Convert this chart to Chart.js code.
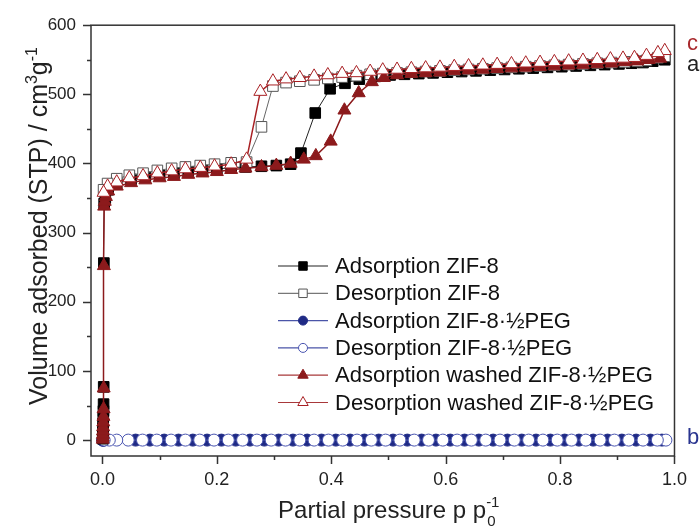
<!DOCTYPE html>
<html>
<head>
<meta charset="utf-8">
<script src="https://cdn.jsdelivr.net/npm/chart.js@4.4.0/dist/chart.umd.min.js"></script>
<style>
  html, body { margin: 0; padding: 0; background: #fff; }
</style>
</head>
<body>
<canvas id="isotherm" width="700" height="531"></canvas>
<script>
// axis ticks
const xTicks = [0, 0.1, 0.2, 0.3, 0.4, 0.5, 0.6, 0.7, 0.8, 0.9, 1.0];
const xLabeled = [0, 0.2, 0.4, 0.6, 0.8, 1.0];
const yTicks = [0, 50, 100, 150, 200, 250, 300, 350, 400, 450, 500, 550, 600];
const yLabeled = [0, 100, 200, 300, 400, 500, 600];

// Adsorption ZIF-8 (a)
const zifAdsX = [0.0005, 0.0006, 0.0008, 0.001, 0.0012, 0.0015, 0.0018, 0.002, 0.0022, 0.0025, 0.003,
  0.005, 0.01, 0.025, 0.05, 0.075, 0.1, 0.125, 0.15, 0.175, 0.2, 0.225, 0.25,
  0.278, 0.304, 0.329, 0.347, 0.372, 0.398, 0.424, 0.449, 0.477,
  0.503, 0.528, 0.553, 0.578, 0.603, 0.628, 0.653, 0.678, 0.703, 0.728, 0.753, 0.778, 0.803, 0.828, 0.853, 0.878, 0.903,
  0.925, 0.945, 0.962, 0.983];
const zifAdsY = [2, 6, 11, 17, 24, 33, 42, 52, 77, 256, 342,
  350, 362, 372, 377, 380, 383, 386, 388, 390, 392, 394, 395,
  396, 397, 399, 415, 473, 508, 516, 522, 526,
  528, 529, 530, 531, 532, 533, 534, 535, 536, 537, 538, 539, 540, 541, 542, 543, 544,
  545, 546, 548, 550];

// Desorption ZIF-8
const zifDesX = [0.983, 0.971, 0.951, 0.935, 0.913, 0.89,
  0.865, 0.84, 0.815, 0.79, 0.765, 0.74, 0.715, 0.69, 0.665, 0.64, 0.615, 0.59, 0.565, 0.54, 0.515, 0.49,
  0.468, 0.444, 0.419, 0.394, 0.37, 0.345, 0.321, 0.298,
  0.278, 0.252,
  0.225, 0.196, 0.171, 0.145, 0.121, 0.096, 0.071, 0.047, 0.025, 0.009, 0.002];
const zifDesY = [555, 553, 549, 548, 547, 546,
  545, 544, 543, 542, 541, 540, 539, 538, 537, 536, 535, 534, 533, 532, 531, 530,
  529, 527, 525, 523, 521, 519, 517, 512,
  453, 402,
  401, 399, 397, 395, 393, 390, 386, 383, 378, 371, 362];

// Adsorption ZIF-8·½PEG (b)
const pegAdsX = [0.0005, 0.001, 0.002,
  0.058, 0.083, 0.108, 0.133, 0.158, 0.183, 0.208, 0.233, 0.258, 0.283, 0.308, 0.333, 0.358, 0.383, 0.408, 0.433,
  0.458, 0.483, 0.508, 0.533, 0.558, 0.583, 0.608, 0.633, 0.658, 0.683, 0.708, 0.733, 0.758, 0.783, 0.808, 0.833,
  0.858, 0.883, 0.908, 0.933, 0.958, 0.978];
const pegAdsY = [0, 0, 0,
  0, 0, 0, 0, 0, 0, 0, 0, 0, 0, 0, 0, 0, 0, 0, 0,
  0, 0, 0, 0, 0, 0, 0, 0, 0, 0, 0, 0, 0, 0, 0, 0,
  0, 0, 0, 0, 0, 0];

// Desorption ZIF-8·½PEG
const pegDesX = [0.985, 0.97, 0.945, 0.92, 0.895, 0.87, 0.845, 0.82, 0.795, 0.77, 0.745, 0.72, 0.695, 0.67,
  0.645, 0.62, 0.595, 0.57, 0.545, 0.52, 0.495, 0.47, 0.445, 0.42, 0.395, 0.37, 0.345, 0.32,
  0.295, 0.27, 0.245, 0.22, 0.195, 0.17, 0.145, 0.12, 0.095, 0.07, 0.045, 0.025, 0.012, 0.003];
const pegDesY = [0, 0, 0, 0, 0, 0, 0, 0, 0, 0, 0, 0, 0, 0,
  0, 0, 0, 0, 0, 0, 0, 0, 0, 0, 0, 0, 0, 0,
  0, 0, 0, 0, 0, 0, 0, 0, 0, 0, 0, 0, 0, 0];

// Adsorption washed ZIF-8·½PEG (c)
const washAdsX = [0.0005, 0.0006, 0.0008, 0.001, 0.0012, 0.0015, 0.0018, 0.002, 0.0022, 0.0025, 0.003,
  0.004, 0.006, 0.01, 0.025,
  0.05, 0.075, 0.1, 0.125, 0.15, 0.175, 0.2, 0.225, 0.25,
  0.278, 0.304, 0.329, 0.352, 0.373, 0.399, 0.423, 0.448, 0.471, 0.492,
  0.515, 0.54, 0.565, 0.59, 0.615, 0.64, 0.665, 0.69, 0.715, 0.74, 0.765, 0.79, 0.815, 0.84, 0.865, 0.89,
  0.913, 0.935, 0.955, 0.975];
const washAdsY = [1, 4, 8, 13, 19, 26, 34, 45, 75, 252, 338,
  345, 352, 360, 367,
  372, 376, 379, 381, 384, 386, 388, 391, 393,
  395, 397, 400, 406, 411, 432, 477, 502, 518, 524,
  528, 530, 531, 532, 534, 535, 536, 537, 538, 539, 540, 541, 542, 543, 544, 545,
  547, 548, 550, 552];

// Desorption washed ZIF-8·½PEG
const washDesX = [0.983, 0.971, 0.951, 0.93, 0.91, 0.888,
  0.865, 0.84, 0.815, 0.79, 0.765, 0.74, 0.715, 0.69, 0.665, 0.64, 0.615, 0.59, 0.565, 0.54, 0.515, 0.49,
  0.468, 0.444, 0.419, 0.394, 0.37, 0.345, 0.321, 0.298,
  0.276, 0.252,
  0.225, 0.196, 0.171, 0.145, 0.121, 0.096, 0.071, 0.047, 0.025, 0.009, 0.002];
const washDesY = [563, 560, 556, 553, 552, 551,
  550, 549, 548, 547, 546, 545, 544, 543, 542, 541, 540, 539, 538, 537, 536, 535,
  533, 531, 530, 528, 526, 524, 522, 519,
  504, 406,
  399, 396, 394, 392, 389, 386, 382, 379, 373, 367, 358];

const FONT = "'Liberation Sans', Arial, sans-serif";
const NAVY = "#1f2a85";
const DARKRED = "#8c1a1c";

function pts(xs, ys) {
  return xs.map((x, i) => ({ x: x, y: ys[i] }));
}

const datasets = [
  {
    label: "Adsorption ZIF-8",
    data: pts(zifAdsX, zifAdsY),
    borderColor: "#222",
    borderWidth: 1,
    pointStyle: "rect",
    pointRadius: 7.5,
    pointBackgroundColor: "#000",
    pointBorderColor: "#000",
    legendLine: "#222",
    order: 3,
  },
  {
    label: "Desorption ZIF-8",
    data: pts(zifDesX, zifDesY),
    borderColor: "#666",
    borderWidth: 1,
    pointStyle: "rect",
    pointRadius: 7.5,
    pointBackgroundColor: "#fff",
    pointBorderColor: "#555",
    legendLine: "#777",
    order: 2,
  },
  {
    label: "Adsorption ZIF-8\u00B7\u00BDPEG",
    data: pts(pegAdsX, pegAdsY),
    borderColor: "#4a55a8",
    borderWidth: 1,
    pointStyle: "circle",
    pointRadius: 6,
    pointBackgroundColor: NAVY,
    pointBorderColor: NAVY,
    legendLine: "#4a55a8",
    order: 5,
  },
  {
    label: "Desorption ZIF-8\u00B7\u00BDPEG",
    data: pts(pegDesX, pegDesY),
    borderColor: "#4a55a8",
    borderWidth: 1,
    pointStyle: "circle",
    pointRadius: 6,
    pointBackgroundColor: "#fff",
    pointBorderColor: "#4a55b0",
    legendLine: "#4a55a8",
    order: 4,
  },
  {
    label: "Adsorption washed ZIF-8\u00B7\u00BDPEG",
    data: pts(washAdsX, washAdsY),
    borderColor: DARKRED,
    borderWidth: 1.5,
    pointStyle: "triangle",
    pointRadius: 7.5,
    pointBackgroundColor: DARKRED,
    pointBorderColor: DARKRED,
    legendLine: "#a8383a",
    order: 1,
  },
  {
    label: "Desorption washed ZIF-8\u00B7\u00BDPEG",
    data: pts(washDesX, washDesY),
    borderColor: "#a82024",
    borderWidth: 1.5,
    pointStyle: "triangle",
    pointRadius: 7.5,
    pointBackgroundColor: "#fff",
    pointBorderColor: "#a82024",
    legendLine: "#a8383a",
    order: 0,
  },
];

// frame, tick marks, axis titles, side letters and legend
const decorations = {
  id: "decorations",
  afterDraw(chart) {
    const { ctx, chartArea: { left, right, top, bottom }, scales: { x, y } } = chart;
    ctx.save();
    ctx.strokeStyle = "#333";
    ctx.lineWidth = 1.5;
    ctx.strokeRect(left, top, right - left, bottom - top);

    ctx.beginPath();
    xTicks.forEach((v) => {
      const px = Math.round(x.getPixelForValue(v)) + 0.5;
      const len = xLabeled.includes(v) ? 8 : 4;
      ctx.moveTo(px, bottom);
      ctx.lineTo(px, bottom + len);
    });
    yTicks.forEach((v) => {
      const py = Math.round(y.getPixelForValue(v)) + 0.5;
      const len = yLabeled.includes(v) ? 8 : 4;
      ctx.moveTo(left, py);
      ctx.lineTo(left - len, py);
    });
    ctx.stroke();

    // x title
    ctx.fillStyle = "#222";
    ctx.textBaseline = "alphabetic";
    ctx.textAlign = "left";
    ctx.font = "24px " + FONT;
    const xMain = "Partial pressure p p";
    const xw = ctx.measureText(xMain).width;
    ctx.font = "15px " + FONT;
    const sw = ctx.measureText("-1").width;
    const xStart = (left + right) / 2 - (xw + sw) / 2 + 6;
    ctx.font = "24px " + FONT;
    ctx.fillText(xMain, xStart, 518);
    ctx.font = "15px " + FONT;
    ctx.fillText("0", xStart + xw + 1, 526);
    ctx.fillText("-1", xStart + xw, 507);

    // y title
    ctx.save();
    ctx.translate(38, 226);
    ctx.rotate(-Math.PI / 2);
    const parts = [
      ["Volume adsorbed (STP) / cm", 25, 0],
      ["3", 16, -10],
      ["g", 25, 0],
      ["-1", 16, -10],
    ];
    let total = 0;
    parts.forEach((p) => {
      ctx.font = p[1] + "px " + FONT;
      total += ctx.measureText(p[0]).width;
    });
    let cx = -total / 2;
    parts.forEach((p) => {
      ctx.font = p[1] + "px " + FONT;
      ctx.fillText(p[0], cx, 9 + p[2]);
      cx += ctx.measureText(p[0]).width;
    });
    ctx.restore();

    // side letters
    ctx.font = "22px " + FONT;
    ctx.textBaseline = "middle";
    ctx.fillStyle = "#a8282c";
    ctx.fillText("c", 687, 44);
    ctx.fillStyle = "#222";
    ctx.fillText("a", 687, 65);
    ctx.fillStyle = "#2a3590";
    ctx.fillText("b", 687, 438);

    // legend
    const lx = 278, ly = 266, rowH = 27.3;
    chart.data.datasets.forEach((ds, i) => {
      const yy = ly + i * rowH;
      ctx.strokeStyle = ds.legendLine;
      ctx.lineWidth = 1.2;
      ctx.beginPath();
      ctx.moveTo(lx, yy);
      ctx.lineTo(lx + 50, yy);
      ctx.stroke();
      ctx.fillStyle = ds.pointBackgroundColor;
      ctx.strokeStyle = ds.pointBorderColor;
      ctx.lineWidth = 1;
      Chart.helpers.drawPoint(ctx, {
        pointStyle: ds.pointStyle,
        radius: ds.pointStyle === "circle" ? 4.5 : 6,
        rotation: 0,
        borderWidth: 1,
      }, lx + 25, yy);
      ctx.fillStyle = "#111";
      ctx.font = "22px " + FONT;
      ctx.textBaseline = "middle";
      ctx.fillText(ds.label, lx + 57, yy + 1);
    });
    ctx.restore();
  },
};

const config = {
  type: "scatter",
  data: { datasets: datasets.map((d) => Object.assign({ showLine: true, pointBorderWidth: 1 }, d)) },
  options: {
    responsive: false,
    animation: false,
    devicePixelRatio: 1,
    layout: { padding: { top: 22, right: 19, left: 0, bottom: 0 } },
    plugins: {
      legend: { display: false },
      tooltip: { enabled: false },
    },
    scales: {
      x: {
        type: "linear",
        min: -0.02,
        max: 1.0,
        grid: { display: false, drawTicks: false },
        border: { display: false },
        afterBuildTicks: (s) => { s.ticks = xTicks.map((v) => ({ value: v })); },
        afterFit: (s) => { s.height = 75; },
        ticks: {
          padding: 13,
          color: "#222",
          font: { family: FONT, size: 18 },
          maxRotation: 0,
          autoSkip: false,
          callback: (v) => (xLabeled.includes(v) ? v.toFixed(1) : ""),
        },
      },
      y: {
        type: "linear",
        min: -23,
        max: 600,
        grid: { display: false, drawTicks: false },
        border: { display: false },
        afterBuildTicks: (s) => { s.ticks = yTicks.map((v) => ({ value: v })); },
        afterFit: (s) => { s.width = 91; },
        ticks: {
          padding: 15,
          color: "#222",
          font: { family: FONT, size: 17 },
          autoSkip: false,
          callback: (v) => (yLabeled.includes(v) ? String(v) : ""),
        },
      },
    },
  },
  plugins: [decorations],
};

const isothermChart = new Chart(document.getElementById("isotherm"), config);
</script>
</body>
</html>
